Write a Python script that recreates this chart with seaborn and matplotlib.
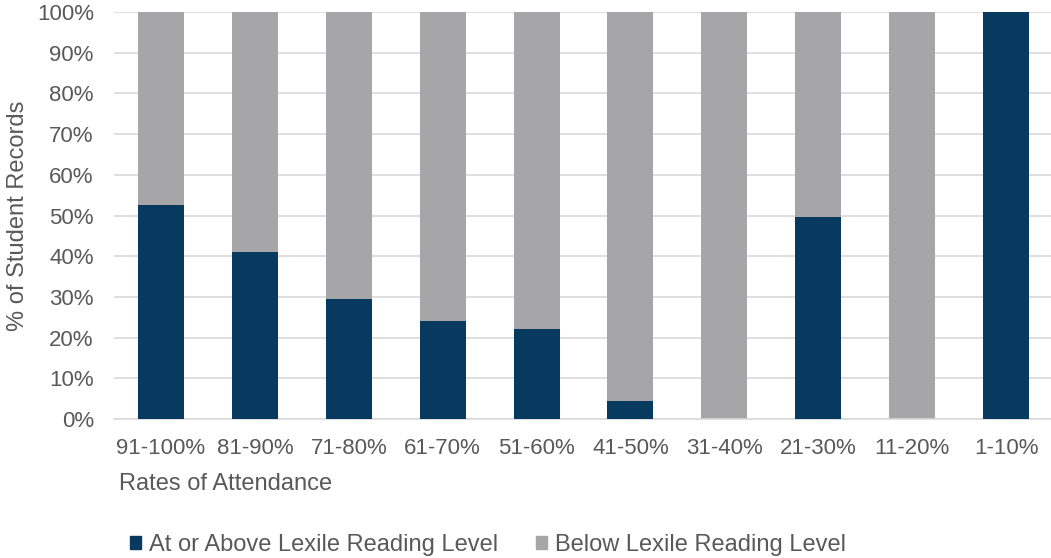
import matplotlib
matplotlib.use("Agg")
import matplotlib.pyplot as plt
import matplotlib.patches as mpatches
from matplotlib.ticker import PercentFormatter
import seaborn as sns
import pandas as pd

categories = ["91-100%", "81-90%", "71-80%", "61-70%", "51-60%",
              "41-50%", "31-40%", "21-30%", "11-20%", "1-10%"]
at_or_above = [52.5, 41.0, 29.5, 24.0, 22.0, 4.3, 0.0, 49.7, 0.0, 100.0]
below = [100 - v for v in at_or_above]

series_names = ["At or Above Lexile Reading Level", "Below Lexile Reading Level"]
navy = "#073A5E"
grey = "#A6A5A7"
text_col = "#595959"

df = pd.DataFrame({"Attendance": categories,
                   "At": at_or_above,
                   "Below": below})
df["Total"] = df["At"] + df["Below"]

sns.set_theme(style="white")
plt.rcParams["font.family"] = ["Liberation Sans", "DejaVu Sans"]

fig = plt.figure(figsize=(10.51, 5.58), dpi=100)
ax = fig.add_axes([114 / 1051, 1 - 419 / 558, (1053 - 114) / 1051, (419 - 12) / 558])

# stacked: full column in grey, lower segment in navy
sns.barplot(data=df, x="Attendance", y="Total", color=grey, width=0.49,
            saturation=1, linewidth=0, ax=ax, zorder=2)
sns.barplot(data=df, x="Attendance", y="At", color=navy, width=0.49,
            saturation=1, linewidth=0, ax=ax, zorder=3)

ax.set_ylim(0, 100)
ax.set_xlim(-0.5, len(categories) - 0.5)
ax.set_yticks(range(0, 101, 10))
ax.yaxis.set_major_formatter(PercentFormatter(decimals=0))
ax.yaxis.grid(True, color="#D9D9D9", linewidth=1.2, zorder=0)
ax.set_axisbelow(True)
for side in ["top", "right", "left"]:
    ax.spines[side].set_visible(False)
ax.spines["bottom"].set_color("#D9D9D9")
ax.spines["bottom"].set_linewidth(1.2)
ax.tick_params(axis="both", length=0, labelsize=16, colors=text_col)
ax.tick_params(axis="x", pad=14)
ax.tick_params(axis="y", pad=14.5)

ax.set_ylabel("% of Student Records", fontsize=17, color=text_col, labelpad=6)
ax.set_xlabel("Rates of Attendance", fontsize=17, color=text_col)
ax.xaxis.set_label_coords((119 - 114) / (1053 - 114), -0.133)
ax.xaxis.label.set_horizontalalignment("left")

handles = [mpatches.Patch(color=navy, label=series_names[0]),
           mpatches.Patch(color=grey, label=series_names[1])]
fig.legend(handles=handles, loc="center", bbox_to_anchor=(488 / 1051, 1 - 545 / 558),
           ncol=2, frameon=False, fontsize=17, labelcolor=text_col,
           handlelength=0.47, handleheight=0.47, handletextpad=0.34, columnspacing=1.6)

fig.savefig("out.png", dpi=100)
